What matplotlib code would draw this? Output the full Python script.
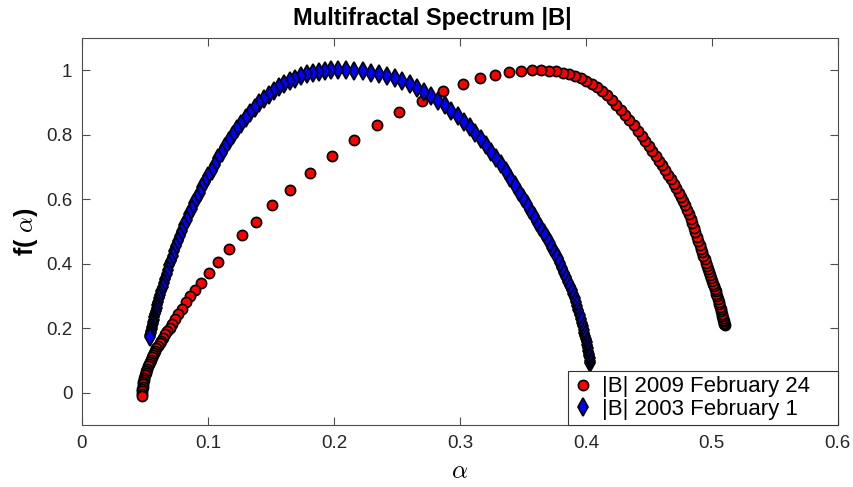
import matplotlib
matplotlib.use("Agg")
import matplotlib.pyplot as plt

plt.rcParams['font.family'] = ['Liberation Sans', 'DejaVu Sans']
plt.rcParams['mathtext.fontset'] = 'cm'

title = "Multifractal Spectrum |B|"
x_label = r"$\alpha$"
y_label = r"f( $\alpha$)"
labels = ["|B| 2009 February 24", "|B| 2003 February 1"]
x_ticks = [0, 0.1, 0.2, 0.3, 0.4, 0.5, 0.6]
x_tick_labels = ["0", "0.1", "0.2", "0.3", "0.4", "0.5", "0.6"]
y_ticks = [0, 0.2, 0.4, 0.6, 0.8, 1.0]
y_tick_labels = ["0", "0.2", "0.4", "0.6", "0.8", "1"]

# |B| 2009 February 24 (red circles)
alpha_2009 = [
    0.0476, 0.0477, 0.0478, 0.0480, 0.0482, 0.0485, 0.0488, 0.0492, 0.0496, 0.0500,
    0.0505, 0.0510, 0.0516, 0.0522, 0.0529, 0.0536, 0.0544, 0.0552, 0.0561, 0.0570,
    0.0580, 0.0591, 0.0603, 0.0616, 0.0630, 0.0645, 0.0661, 0.0678, 0.0697, 0.0718,
    0.0741, 0.0766, 0.0794, 0.0825, 0.0858, 0.0897, 0.0944, 0.1008, 0.1079, 0.1167,
    0.1270, 0.1381, 0.1508, 0.1651, 0.1810, 0.1984, 0.2159, 0.2341, 0.2516, 0.2698,
    0.2865, 0.3024, 0.3159, 0.3278, 0.3389, 0.3484, 0.3571, 0.3643, 0.3706, 0.3762,
    0.3817, 0.3865, 0.3913, 0.3960, 0.4004, 0.4046, 0.4087, 0.4127, 0.4166, 0.4204,
    0.4241, 0.4277, 0.4312, 0.4346, 0.4379, 0.4411, 0.4442, 0.4472, 0.4501, 0.4529,
    0.4556, 0.4582, 0.4607, 0.4631, 0.4654, 0.4676, 0.4697, 0.4717, 0.4736, 0.4754,
    0.4771, 0.4787, 0.4802, 0.4817, 0.4831, 0.4844, 0.4857, 0.4869, 0.4881, 0.4892,
    0.4903, 0.4914, 0.4924, 0.4934, 0.4944, 0.4953, 0.4962, 0.4971, 0.4979, 0.4987,
    0.4995, 0.5003, 0.5010, 0.5017, 0.5024, 0.5031, 0.5037, 0.5043, 0.5049, 0.5055,
    0.5060, 0.5065, 0.5070, 0.5075, 0.5079, 0.5083, 0.5087, 0.5091, 0.5094, 0.5097,
    0.5100, 0.5103,
]
f_2009 = [
    -0.009, -0.002, 0.005, 0.012, 0.019, 0.026, 0.033, 0.040, 0.047, 0.054,
    0.061, 0.068, 0.075, 0.082, 0.089, 0.096, 0.103, 0.110, 0.117, 0.124,
    0.131, 0.138, 0.146, 0.154, 0.162, 0.171, 0.181, 0.191, 0.202, 0.214,
    0.228, 0.243, 0.259, 0.281, 0.299, 0.319, 0.342, 0.373, 0.407, 0.447,
    0.488, 0.531, 0.581, 0.630, 0.683, 0.733, 0.783, 0.829, 0.870, 0.904,
    0.935, 0.957, 0.975, 0.984, 0.994, 0.998, 1.000, 1.000, 0.999, 0.997,
    0.993, 0.989, 0.983, 0.976, 0.967, 0.957, 0.947, 0.937, 0.923, 0.908,
    0.893, 0.877, 0.862, 0.846, 0.829, 0.813, 0.797, 0.782, 0.766, 0.750,
    0.735, 0.720, 0.705, 0.690, 0.676, 0.662, 0.648, 0.634, 0.620, 0.607,
    0.594, 0.581, 0.568, 0.554, 0.540, 0.526, 0.512, 0.498, 0.484, 0.471,
    0.459, 0.447, 0.436, 0.425, 0.414, 0.404, 0.394, 0.384, 0.375, 0.366,
    0.357, 0.348, 0.339, 0.331, 0.323, 0.315, 0.307, 0.299, 0.291, 0.283,
    0.275, 0.267, 0.260, 0.253, 0.246, 0.239, 0.233, 0.227, 0.222, 0.217,
    0.213, 0.209,
]

# |B| 2003 February 1 (blue diamonds)
alpha_2003 = [
    0.0540, 0.0543, 0.0546, 0.0549, 0.0552, 0.0556, 0.0560, 0.0564, 0.0569, 0.0574,
    0.0580, 0.0586, 0.0592, 0.0599, 0.0606, 0.0614, 0.0622, 0.0631, 0.0640, 0.0650,
    0.0660, 0.0671, 0.0682, 0.0694, 0.0707, 0.0720, 0.0734, 0.0748, 0.0763, 0.0779,
    0.0796, 0.0813, 0.0831, 0.0850, 0.0870, 0.0890, 0.0911, 0.0933, 0.0956, 0.0980,
    0.1004, 0.1029, 0.1055, 0.1082, 0.1110, 0.1139, 0.1169, 0.1200, 0.1232, 0.1265,
    0.1299, 0.1334, 0.1370, 0.1407, 0.1445, 0.1484, 0.1524, 0.1565, 0.1607, 0.1650,
    0.1694, 0.1739, 0.1785, 0.1832, 0.1880, 0.1929, 0.1979, 0.2030, 0.2096, 0.2162,
    0.2228, 0.2293, 0.2357, 0.2420, 0.2482, 0.2543, 0.2603, 0.2661, 0.2718, 0.2774,
    0.2828, 0.2881, 0.2932, 0.2982, 0.3030, 0.3077, 0.3122, 0.3166, 0.3208, 0.3249,
    0.3289, 0.3327, 0.3364, 0.3400, 0.3434, 0.3467, 0.3499, 0.3530, 0.3559, 0.3587,
    0.3614, 0.3640, 0.3665, 0.3689, 0.3712, 0.3734, 0.3755, 0.3775, 0.3794, 0.3812,
    0.3829, 0.3845, 0.3860, 0.3874, 0.3887, 0.3899, 0.3910, 0.3921, 0.3931, 0.3941,
    0.3950, 0.3959, 0.3967, 0.3975, 0.3982, 0.3989, 0.3995, 0.4001, 0.4007, 0.4012,
    0.4017, 0.4021, 0.4025, 0.4028, 0.4031, 0.4033, 0.4035,
]
f_2003 = [
    0.174, 0.180, 0.186, 0.192, 0.198, 0.205, 0.212, 0.219, 0.227, 0.235,
    0.244, 0.253, 0.262, 0.272, 0.282, 0.293, 0.304, 0.316, 0.328, 0.341,
    0.354, 0.367, 0.381, 0.395, 0.410, 0.425, 0.440, 0.455, 0.471, 0.487,
    0.503, 0.519, 0.536, 0.553, 0.570, 0.587, 0.604, 0.621, 0.638, 0.655,
    0.672, 0.689, 0.706, 0.727, 0.745, 0.763, 0.781, 0.799, 0.817, 0.834,
    0.851, 0.867, 0.882, 0.897, 0.911, 0.924, 0.936, 0.947, 0.957, 0.966,
    0.974, 0.981, 0.987, 0.992, 0.996, 0.998, 1.000, 1.000, 1.000, 0.999,
    0.997, 0.993, 0.988, 0.982, 0.975, 0.966, 0.956, 0.945, 0.933, 0.920,
    0.906, 0.891, 0.875, 0.858, 0.841, 0.823, 0.805, 0.786, 0.767, 0.747,
    0.728, 0.710, 0.689, 0.666, 0.645, 0.624, 0.604, 0.584, 0.566, 0.548,
    0.531, 0.514, 0.497, 0.481, 0.466, 0.450, 0.434, 0.419, 0.403, 0.388,
    0.373, 0.359, 0.345, 0.331, 0.318, 0.305, 0.293, 0.281, 0.269, 0.257,
    0.240, 0.229, 0.218, 0.207, 0.196, 0.186, 0.176, 0.166, 0.157, 0.148,
    0.139, 0.130, 0.122, 0.114, 0.107, 0.100, 0.093,
]

fig = plt.figure(figsize=(8.54, 4.87), dpi=100)
ax = fig.add_axes([0.096, 0.127, 0.885, 0.795])

ax.plot(alpha_2009[::-1], f_2009[::-1], linestyle='none', marker='o',
        markersize=7.3, markerfacecolor='#ff0000', markeredgecolor='black',
        markeredgewidth=1.25, label=labels[0], zorder=2)
ax.plot(alpha_2003[::-1], f_2003[::-1], linestyle='none', marker='d',
        markersize=9.0, markerfacecolor='#0000ff', markeredgecolor='black',
        markeredgewidth=1.25, label=labels[1], zorder=3)

ax.set_xlim(0, 0.6)
ax.set_ylim(-0.1, 1.1)
ax.set_xticks(x_ticks)
ax.set_xticklabels(x_tick_labels)
ax.set_yticks(y_ticks)
ax.set_yticklabels(y_tick_labels)

axis_color = '#4d4d4d'
for sp in ax.spines.values():
    sp.set_color(axis_color)
    sp.set_linewidth(0.8)
ax.tick_params(direction='in', length=5.5, width=0.8, color=axis_color,
               labelsize=13.5, labelcolor='#262626', top=True, right=True, pad=7)

ax.set_title(title, fontsize=17, fontweight='bold', pad=9, x=0.463)
ax.set_xlabel(x_label, fontsize=18, labelpad=5)
ax.set_ylabel(y_label, fontsize=18, fontweight='bold', labelpad=4)

leg = ax.legend(loc='lower left', bbox_to_anchor=(0.6429, 0.0, 0.3571, 0.14),
                mode='expand', borderaxespad=0,
                fontsize=16, frameon=True, fancybox=False, framealpha=1,
                edgecolor='#333333', handlelength=0.9, handletextpad=0.4,
                borderpad=0.25, labelspacing=0.05)
leg.get_frame().set_linewidth(0.8)

fig.savefig("out.png", dpi=100)
